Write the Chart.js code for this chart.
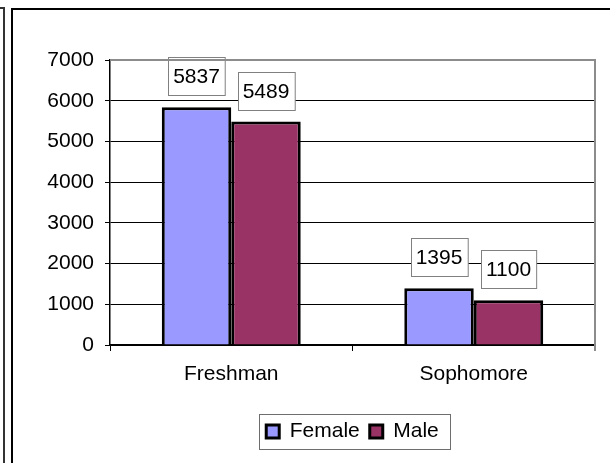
<!DOCTYPE html>
<html>
<head>
    <title>Freshman / Sophomore</title>
    <script src="https://cdn.jsdelivr.net/npm/chart.js"></script>
    <style>
        html, body {
            margin: 0;
            padding: 0;
            background: #fff;
            overflow: hidden;
        }
        #wrap {
            position: relative;
            width: 610px;
            height: 463px;
        }
        #chart {
            position: absolute;
            left: 0;
            top: 0;
        }
        .frame {
            position: absolute;
            pointer-events: none;
        }
    </style>
</head>
<body>
    <div id="wrap">
        <canvas id="chart" width="610" height="463"></canvas>
        <!-- 左边的边框线 -->
        <div class="frame" style="left:-10px; top:7px; width:13px; height:500px; border-top:2px solid #333; border-right:2px solid #333;"></div>
        <div class="frame" style="left:11px; top:8px; width:700px; height:500px; border:2px solid #000;"></div>
    </div>

    <script>
        const categories = ['Freshman', 'Sophomore'];
        const femaleValues = [5837, 1395];
        const maleValues = [5489, 1100];
        const yTicks = [0, 1000, 2000, 3000, 4000, 5000, 6000, 7000];

        const FONT = 'Liberation Sans, Arial, sans-serif';

        // 数值标签（白底灰框）
        const valueLabels = {
            id: 'valueLabels',
            afterDatasetsDraw(chart) {
                const ctx = chart.ctx;
                ctx.save();
                ctx.font = '21px ' + FONT;
                ctx.textAlign = 'center';
                ctx.textBaseline = 'middle';
                chart.data.datasets.forEach((ds, di) => {
                    const meta = chart.getDatasetMeta(di);
                    meta.data.forEach((bar, i) => {
                        const text = String(ds.data[i]);
                        const w = ctx.measureText(text).width + 10;
                        const h = 38;
                        const bottom = bar.y - 12;
                        const left = Math.round(bar.x - w / 2) + 0.5;
                        const top = Math.round(bottom - h) + 0.5;
                        ctx.fillStyle = '#fff';
                        ctx.fillRect(left, top, w, h);
                        ctx.strokeStyle = '#808080';
                        ctx.lineWidth = 1;
                        ctx.strokeRect(left, top, w, h);
                        ctx.fillStyle = '#000';
                        ctx.fillText(text, bar.x, top + h / 2 + 1);
                    });
                });
                ctx.restore();
            }
        };

        // 绘图区灰色上边和右边 + 图例外框
        const plotBorder = {
            id: 'plotBorder',
            afterDraw(chart) {
                const ctx = chart.ctx;
                const a = chart.chartArea;
                ctx.save();
                ctx.strokeStyle = '#8c8c8c';
                ctx.lineWidth = 2;
                ctx.beginPath();
                ctx.moveTo(a.left, a.top);
                ctx.lineTo(a.right, a.top);
                ctx.lineTo(a.right, a.bottom + 6);
                ctx.stroke();

                const boxes = chart.legend.legendHitBoxes;
                if (boxes && boxes.length) {
                    const first = boxes[0];
                    const last = boxes[boxes.length - 1];
                    const cy = first.top + first.height / 2;
                    const x1 = Math.round(first.left - 7) + 0.5;
                    const x2 = Math.round(last.left + last.width + 11) + 0.5;
                    const y1 = Math.round(cy - 17.5) + 0.5;
                    ctx.strokeStyle = '#6e6e6e';
                    ctx.lineWidth = 1;
                    ctx.strokeRect(x1, y1, x2 - x1, 35);
                }
                ctx.restore();
            }
        };

        const ctx = document.getElementById('chart').getContext('2d');
        new Chart(ctx, {
            type: 'bar',
            data: {
                labels: categories,
                datasets: [{
                    label: 'Female',
                    data: femaleValues,
                    backgroundColor: '#9999ff',
                    borderColor: '#000',
                    borderWidth: 3
                }, {
                    label: 'Male',
                    data: maleValues,
                    backgroundColor: '#993366',
                    borderColor: '#000',
                    borderWidth: 3
                }]
            },
            options: {
                responsive: false,
                animation: false,
                events: [],
                datasets: {
                    bar: {
                        barPercentage: 1,
                        categoryPercentage: 0.573
                    }
                },
                layout: {
                    padding: { left: 0, right: 15, top: 60, bottom: 11 }
                },
                scales: {
                    x: {
                        afterFit(scale) { scale.height = 66; },
                        grid: {
                            offset: true,
                            drawOnChartArea: false,
                            color: '#000',
                            tickLength: 6
                        },
                        border: { color: '#000', width: 1.5 },
                        ticks: {
                            color: '#000',
                            font: { family: FONT, size: 21 },
                            padding: 11
                        }
                    },
                    y: {
                        min: 0,
                        max: 7000,
                        afterFit(scale) { scale.width = 110; },
                        afterBuildTicks(scale) {
                            scale.ticks = yTicks.map(v => ({ value: v }));
                        },
                        grid: {
                            color: '#000',
                            tickLength: 5
                        },
                        border: { color: '#000', width: 1.5 },
                        ticks: {
                            color: '#000',
                            font: { family: FONT, size: 21 },
                            padding: 11,
                            callback: v => String(v)
                        }
                    }
                },
                plugins: {
                    legend: {
                        position: 'bottom',
                        fullSize: false,
                        labels: {
                            color: '#000',
                            font: { family: FONT, size: 21 },
                            boxWidth: 13,
                            boxHeight: 13,
                            padding: 10
                        }
                    },
                    tooltip: { enabled: false }
                }
            },
            plugins: [valueLabels, plotBorder]
        });
    </script>
</body>
</html>
